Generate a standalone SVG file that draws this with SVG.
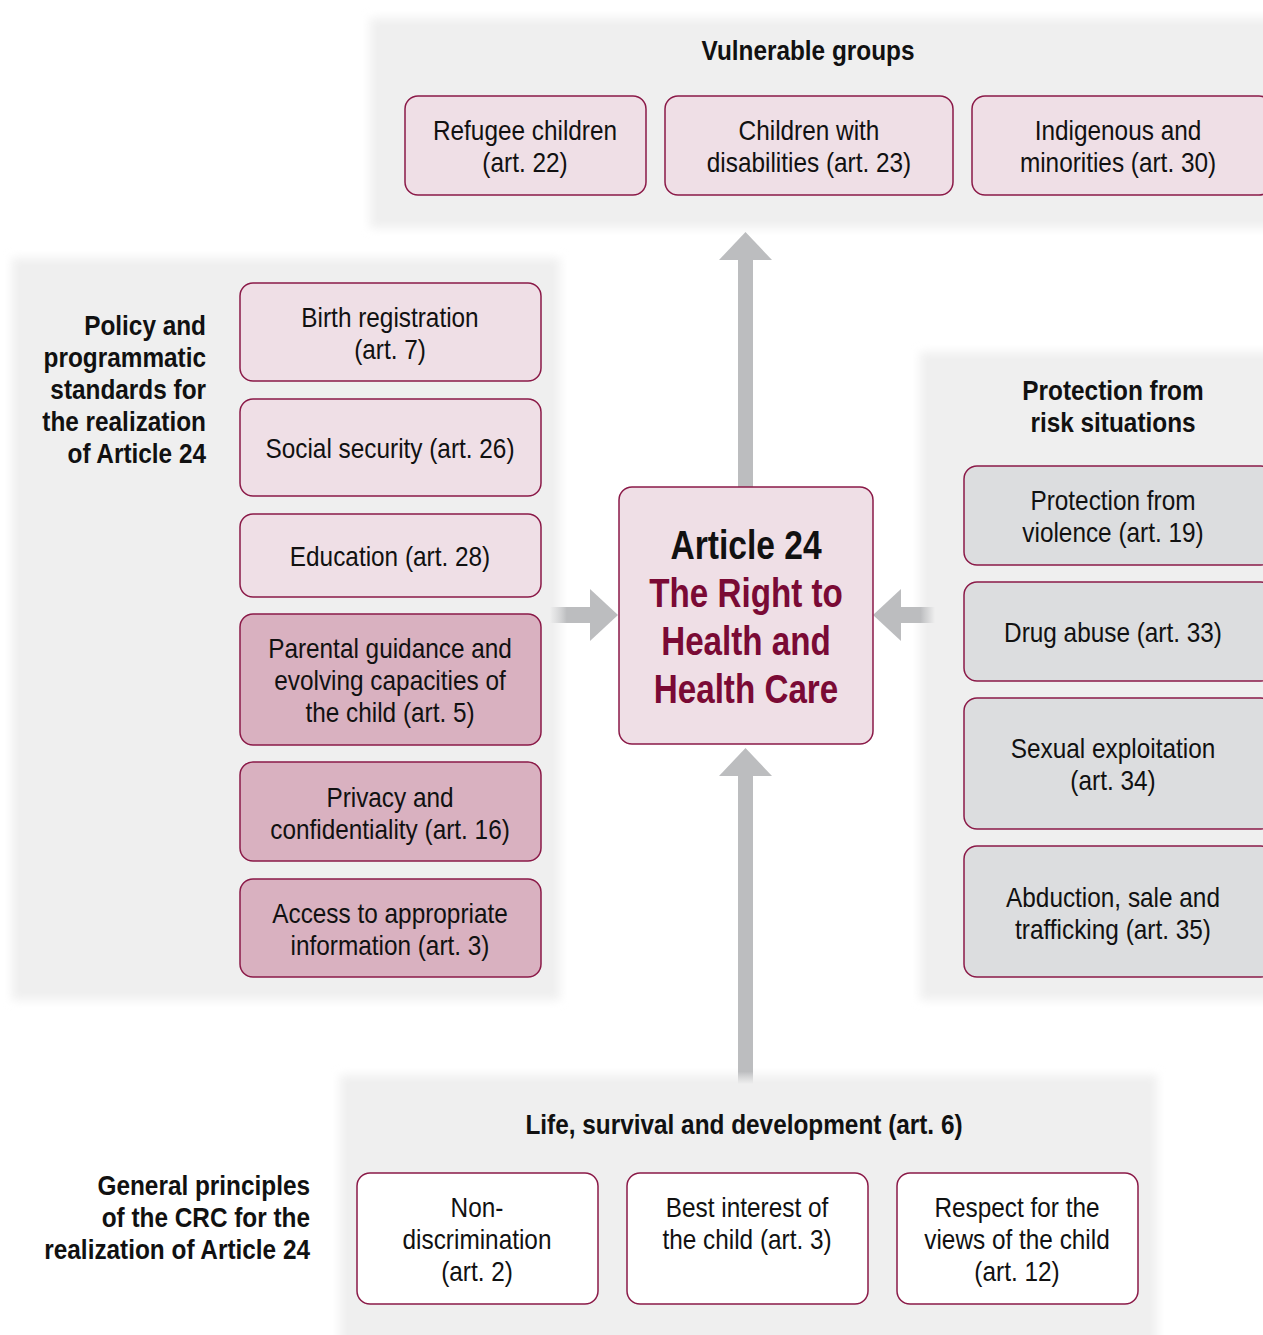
<svg xmlns="http://www.w3.org/2000/svg" width="1263" height="1335" viewBox="0 0 1263 1335">
  <defs>
    <filter id="soft" x="-10%" y="-10%" width="120%" height="120%">
      <feGaussianBlur stdDeviation="5"/>
    </filter>
    <linearGradient id="fadeUp" x1="0" y1="1" x2="0" y2="0">
      <stop offset="0" stop-color="#bcbdbf" stop-opacity="0"/>
      <stop offset="0.04" stop-color="#bcbdbf"/>
      <stop offset="1" stop-color="#bcbdbf"/>
    </linearGradient>
    <linearGradient id="fadeRight" x1="0" y1="0" x2="1" y2="0">
      <stop offset="0" stop-color="#bcbdbf" stop-opacity="0"/>
      <stop offset="0.4" stop-color="#bcbdbf"/>
      <stop offset="1" stop-color="#bcbdbf"/>
    </linearGradient>
    <linearGradient id="fadeLeft" x1="1" y1="0" x2="0" y2="0">
      <stop offset="0" stop-color="#bcbdbf" stop-opacity="0"/>
      <stop offset="0.4" stop-color="#bcbdbf"/>
      <stop offset="1" stop-color="#bcbdbf"/>
    </linearGradient>
  </defs>
  <style>
    text { font-family: "Liberation Sans", Arial, sans-serif; }
    .lbl { font-size: 28px; fill: #111; text-anchor: middle; }
    .head { font-size: 28px; font-weight: bold; fill: #111; }
    .mid { text-anchor: middle; }
    .end { text-anchor: end; }
    .title { font-size: 40px; font-weight: bold; text-anchor: middle; fill: #7a0a35; }
    .panel { fill: #efefef; filter: url(#soft); }
    .box { stroke: #8b1a48; stroke-width: 1.5; }
    .light { fill: #efdfe6; }
    .dark { fill: #d9b1c0; }
    .grey { fill: #dcdddf; }
    .white { fill: #ffffff; }
    .arrow { fill: #bcbdbf; }
  </style>

  <rect width="1263" height="1335" fill="#ffffff"/>

  <!-- background panels -->
  <g id="panels">
    <rect class="panel" x="370" y="18" width="910" height="210"/>
    <rect class="panel" x="12" y="258" width="548" height="742"/>
    <rect class="panel" x="920" y="352" width="360" height="648"/>
    <rect class="panel" x="340" y="1075" width="817" height="275"/>
  </g>

  <!-- connectors -->
  <g id="connectors">
    <rect x="738" y="258" width="15" height="230" fill="#bcbdbf"/>
    <polygon class="arrow" points="719,260 772,260 745.5,232"/>
    <rect x="738" y="774" width="15" height="310" fill="url(#fadeUp)"/>
    <polygon class="arrow" points="719,776 772,776 745.5,748"/>
    <rect x="550" y="607" width="42" height="16" fill="url(#fadeRight)"/>
    <polygon class="arrow" points="590,589 590,641 618,615"/>
    <rect x="899" y="607" width="36" height="16" fill="url(#fadeLeft)"/>
    <polygon class="arrow" points="901,589 901,641 873,615"/>
  </g>

  <!-- section headings (condensed by horizontal scaling) -->
  <g id="headings">
    <text class="head mid" transform="matrix(.87 0 0 1 808 0)" y="60">Vulnerable groups</text>
    <text class="head end" transform="matrix(.87 0 0 1 206 0)" y="335">Policy and</text>
    <text class="head end" transform="matrix(.87 0 0 1 206 0)" y="367">programmatic</text>
    <text class="head end" transform="matrix(.87 0 0 1 206 0)" y="399">standards for</text>
    <text class="head end" transform="matrix(.87 0 0 1 206 0)" y="431">the realization</text>
    <text class="head end" transform="matrix(.87 0 0 1 206 0)" y="463">of Article 24</text>
    <text class="head mid" transform="matrix(.87 0 0 1 1113 0)" y="400">Protection from</text>
    <text class="head mid" transform="matrix(.87 0 0 1 1113 0)" y="432">risk situations</text>
    <text class="head mid" transform="matrix(.87 0 0 1 744 0)" y="1134">Life, survival and development (art. 6)</text>
    <text class="head end" transform="matrix(.87 0 0 1 310 0)" y="1195">General principles</text>
    <text class="head end" transform="matrix(.87 0 0 1 310 0)" y="1227">of the CRC for the</text>
    <text class="head end" transform="matrix(.87 0 0 1 310 0)" y="1259">realization of Article 24</text>
  </g>

  <!-- central node -->
  <g id="article24">
    <rect class="box light" x="619" y="487" width="254" height="257" rx="13"/>
    <text class="title" transform="matrix(.84 0 0 1 746 0)" y="559" fill="#111" style="fill:#111">Article 24</text>
    <text class="title" transform="matrix(.83 0 0 1 746 0)" y="607">The Right to</text>
    <text class="title" transform="matrix(.83 0 0 1 746 0)" y="655">Health and</text>
    <text class="title" transform="matrix(.83 0 0 1 746 0)" y="703">Health Care</text>
  </g>

  <!-- vulnerable groups -->
  <g id="refugee">
    <rect class="box light" x="405" y="96" width="241" height="99" rx="13"/>
    <text class="lbl" transform="matrix(.87 0 0 1 525 0)" y="140">Refugee children</text>
    <text class="lbl" transform="matrix(.87 0 0 1 525 0)" y="172">(art. 22)</text>
  </g>
  <g id="disabilities">
    <rect class="box light" x="665" y="96" width="288" height="99" rx="13"/>
    <text class="lbl" transform="matrix(.87 0 0 1 809 0)" y="140">Children with</text>
    <text class="lbl" transform="matrix(.87 0 0 1 809 0)" y="172">disabilities (art. 23)</text>
  </g>
  <g id="indigenous">
    <rect class="box light" x="972" y="96" width="300" height="99" rx="13"/>
    <text class="lbl" transform="matrix(.87 0 0 1 1118 0)" y="140">Indigenous and</text>
    <text class="lbl" transform="matrix(.87 0 0 1 1118 0)" y="172">minorities (art. 30)</text>
  </g>

  <!-- policy and programmatic standards -->
  <g id="birth">
    <rect class="box light" x="240" y="283" width="301" height="98" rx="13"/>
    <text class="lbl" transform="matrix(.87 0 0 1 390 0)" y="327">Birth registration</text>
    <text class="lbl" transform="matrix(.87 0 0 1 390 0)" y="359">(art. 7)</text>
  </g>
  <g id="social">
    <rect class="box light" x="240" y="399" width="301" height="97" rx="13"/>
    <text class="lbl" transform="matrix(.87 0 0 1 390 0)" y="458">Social security (art. 26)</text>
  </g>
  <g id="education">
    <rect class="box light" x="240" y="514" width="301" height="83" rx="13"/>
    <text class="lbl" transform="matrix(.87 0 0 1 390 0)" y="566">Education (art. 28)</text>
  </g>
  <g id="parental">
    <rect class="box dark" x="240" y="614" width="301" height="131" rx="13"/>
    <text class="lbl" transform="matrix(.87 0 0 1 390 0)" y="658">Parental guidance and</text>
    <text class="lbl" transform="matrix(.87 0 0 1 390 0)" y="690">evolving capacities of</text>
    <text class="lbl" transform="matrix(.87 0 0 1 390 0)" y="722">the child (art. 5)</text>
  </g>
  <g id="privacy">
    <rect class="box dark" x="240" y="762" width="301" height="99" rx="13"/>
    <text class="lbl" transform="matrix(.87 0 0 1 390 0)" y="807">Privacy and</text>
    <text class="lbl" transform="matrix(.87 0 0 1 390 0)" y="839">confidentiality (art. 16)</text>
  </g>
  <g id="information">
    <rect class="box dark" x="240" y="879" width="301" height="98" rx="13"/>
    <text class="lbl" transform="matrix(.87 0 0 1 390 0)" y="923">Access to appropriate</text>
    <text class="lbl" transform="matrix(.87 0 0 1 390 0)" y="955">information (art. 3)</text>
  </g>

  <!-- protection from risk situations -->
  <g id="violence">
    <rect class="box grey" x="964" y="466" width="310" height="99" rx="13"/>
    <text class="lbl" transform="matrix(.87 0 0 1 1113 0)" y="510">Protection from</text>
    <text class="lbl" transform="matrix(.87 0 0 1 1113 0)" y="542">violence (art. 19)</text>
  </g>
  <g id="drugs">
    <rect class="box grey" x="964" y="582" width="310" height="99" rx="13"/>
    <text class="lbl" transform="matrix(.87 0 0 1 1113 0)" y="642">Drug abuse (art. 33)</text>
  </g>
  <g id="exploitation">
    <rect class="box grey" x="964" y="698" width="310" height="131" rx="13"/>
    <text class="lbl" transform="matrix(.87 0 0 1 1113 0)" y="758">Sexual exploitation</text>
    <text class="lbl" transform="matrix(.87 0 0 1 1113 0)" y="790">(art. 34)</text>
  </g>
  <g id="trafficking">
    <rect class="box grey" x="964" y="846" width="310" height="131" rx="13"/>
    <text class="lbl" transform="matrix(.87 0 0 1 1113 0)" y="907">Abduction, sale and</text>
    <text class="lbl" transform="matrix(.87 0 0 1 1113 0)" y="939">trafficking (art. 35)</text>
  </g>

  <!-- general principles -->
  <g id="nondiscrimination">
    <rect class="box white" x="357" y="1173" width="241" height="131" rx="13"/>
    <text class="lbl" transform="matrix(.87 0 0 1 477 0)" y="1217">Non-</text>
    <text class="lbl" transform="matrix(.87 0 0 1 477 0)" y="1249">discrimination</text>
    <text class="lbl" transform="matrix(.87 0 0 1 477 0)" y="1281">(art. 2)</text>
  </g>
  <g id="bestinterest">
    <rect class="box white" x="627" y="1173" width="241" height="131" rx="13"/>
    <text class="lbl" transform="matrix(.87 0 0 1 747 0)" y="1217">Best interest of</text>
    <text class="lbl" transform="matrix(.87 0 0 1 747 0)" y="1249">the child (art. 3)</text>
  </g>
  <g id="views">
    <rect class="box white" x="897" y="1173" width="241" height="131" rx="13"/>
    <text class="lbl" transform="matrix(.87 0 0 1 1017 0)" y="1217">Respect for the</text>
    <text class="lbl" transform="matrix(.87 0 0 1 1017 0)" y="1249">views of the child</text>
    <text class="lbl" transform="matrix(.87 0 0 1 1017 0)" y="1281">(art. 12)</text>
  </g>
</svg>
